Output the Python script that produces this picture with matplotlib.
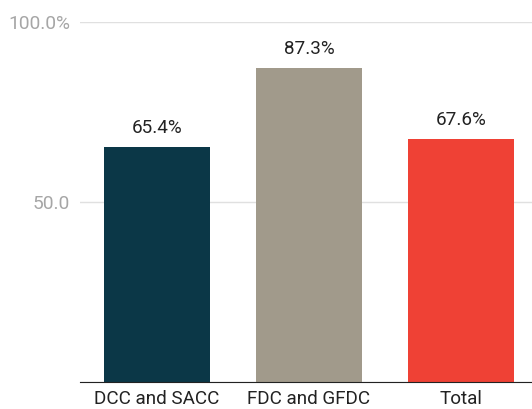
import matplotlib.pyplot as plt

categories = ['DCC and SACC', 'FDC and GFDC', 'Total']
values = [65.4, 87.3, 67.6]
colors = ['#0b3747', '#a19a8b', '#ef4135']
yticks = [0, 50, 100]
ytick_labels = ['', '50.0', '100.0%']

plt.rcParams['font.family'] = ['Roboto', 'DejaVu Sans']

fig = plt.figure(figsize=(5.32, 4.09), dpi=100)
ax = fig.add_axes([80/532, 27/409, 452/532, 360/409])

x = list(range(len(categories)))
ax.bar(x, values, width=0.70, color=colors, zorder=3)
for xi, v in zip(x, values):
    ax.annotate(f'{v}%', (xi, v), xytext=(0, 7), textcoords='offset points',
                ha='center', va='bottom', fontsize=13.6, color='#222222')

ax.set_xlim(-0.507, 2.467)
ax.set_ylim(0, 100)
ax.set_yticks(yticks)
ax.set_yticklabels(ytick_labels)
ax.set_xticks(x)
ax.set_xticklabels(categories)
ax.tick_params(axis='y', length=0, pad=7, labelsize=13.8, labelcolor='#a6a6a6')
ax.tick_params(axis='x', length=0, pad=6, labelsize=13.6, labelcolor='#222222')
ax.grid(axis='y', color='#e0e0e0', linewidth=1, zorder=0)
for s in ['top', 'right', 'left']:
    ax.spines[s].set_visible(False)
ax.spines['bottom'].set_color('#222222')
ax.spines['bottom'].set_zorder(4)

fig.savefig('out.png', dpi=100)
